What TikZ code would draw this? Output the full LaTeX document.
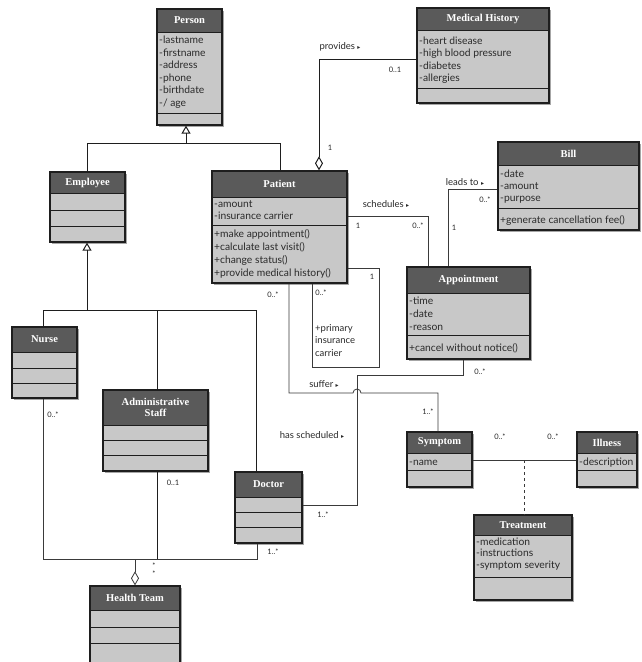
\documentclass[tikz,border=0pt]{standalone}
\usepackage{fontspec}
\setmainfont{Lato}
\newfontfamily\titlefont{Liberation Serif}
\newfontfamily\symfont{DejaVu Sans}
\usetikzlibrary{arrows.meta,fit}

\definecolor{headc}{HTML}{5A5A5A}
\definecolor{bodyc}{HTML}{C8C8C8}
\definecolor{framec}{HTML}{1E1E1E}
\definecolor{linec}{HTML}{3A3A3A}
\definecolor{textc}{HTML}{2A2A2A}

\tikzset{
  frame/.style={draw=framec, line width=1.3pt, inner sep=0pt},
  sepline/.style={draw=framec, line width=0.9pt},
  shadowfill/.style={fill=black!35},
  classtitle/.style={font=\titlefont\bfseries\fontsize{10.5}{11.5}\selectfont, text=white, inner sep=0pt, align=center},
  attr/.style={font=\fontsize{10.3}{12}\selectfont, text=textc, inner sep=0pt, anchor=base west},
  lbl/.style={font=\fontsize{7.5}{9}\selectfont, text=textc, inner sep=0pt},
  assocname/.style={font=\fontsize{9.5}{11}\selectfont, text=textc, inner sep=0pt},
  assoc/.style={draw=linec, line width=0.8pt},
  gen/.style={draw=framec, line width=1pt},
  genhead/.style={-{Triangle[open, length=8pt, width=9pt]}},
  agg/.style={-{Diamond[open, length=14pt, width=8pt]}},
}

% class box: name, x1, y1, x2, y2, header bottom, title, further compartment lines
\newcommand\umlclass[8]{%
  \fill[shadowfill] (#2+2,#3+2) rectangle (#4+2,#5+2);
  \fill[bodyc] (#2,#3) rectangle (#4,#5);
  \fill[headc] (#2,#3) rectangle (#4,#6);
  \foreach \yy in {#6,#8} {\draw[sepline] (#2,\yy) -- (#4,\yy);}
  \node[frame, fit={(#2,#3) (#4,#5)}] (#1) {};
  \node[classtitle] (#1-title) at ({(#2+#4)/2},{(#3+#6)/2}) {#7};
}
% member lines: prefix, x, first baseline, line step, list
\newcommand\memberlines[5]{%
  \foreach \t [count=\i] in {#5} {\node[attr] (#1-\i) at (#2, #3+\i*#4-#4) {\t};}
}
\newcommand\tri{{\symfont\fontsize{6}{6}\selectfont ▸}}

\begin{document}
\begin{tikzpicture}[x=1pt, y=-1pt]
\fill[white] (0,0) rectangle (642,662);
\useasboundingbox (0,0) rectangle (642,662);

% ---- classes ----
\umlclass{person}{157}{9}{222}{125}{32}{Person}{113}
\memberlines{person-a}{159}{43.5}{12.6}{-lastname,-firstname,-address,-phone,-birthdate,-/ age}

\umlclass{mh}{417}{8}{549}{103}{30}{Medical History}{88}
\memberlines{mh-a}{419}{44}{12.5}{-heart disease,-high blood pressure,-diabetes,-allergies}

\umlclass{bill}{498}{142}{639}{230}{165}{Bill}{208}
\memberlines{bill-a}{500}{177}{12}{-date,-amount,-purpose}
\memberlines{bill-m}{500}{223}{12}{+generate cancellation fee()}

\umlclass{patient}{212}{171}{347}{283}{197}{Patient}{225}
\memberlines{patient-a}{214}{207}{12}{-amount,-insurance carrier}
\memberlines{patient-m}{214}{237}{13.3}{+make appointment(),+calculate last visit(),+change status(),+provide medical history()}

\umlclass{appt}{407}{267}{530}{359}{293}{Appointment}{335}
\memberlines{appt-a}{409}{304}{13}{-time,-date,-reason}
\memberlines{appt-m}{409}{351}{12}{+cancel without notice()}

\umlclass{employee}{50}{172}{125}{242}{193}{Employee}{210,226}
\umlclass{nurse}{12}{327}{77}{398}{352}{Nurse}{368,383}
\umlclass{admin}{103}{390}{208}{471}{425}{Administrative\\Staff}{440,455}
\umlclass{doctor}{235}{472}{302}{543}{497}{Doctor}{512,527}
\umlclass{health}{90}{586}{180}{664}{610}{Health Team}{627,643}

\umlclass{symptom}{407}{432}{472}{487}{453}{Symptom}{470}
\memberlines{symptom-a}{409}{465}{12}{-name}
\umlclass{illness}{577}{432}{637}{487}{453}{Illness}{470}
\memberlines{illness-a}{579}{465}{12}{-description}
\umlclass{treat}{474}{515}{572}{600}{535}{Treatment}{577}
\memberlines{treat-a}{476}{545}{11.5}{-medication,-instructions,-symptom severity}

% ---- generalizations ----
\coordinate (g1) at (186,143);
\coordinate (gl) at (87,143);
\coordinate (gr) at (280,143);
\draw[gen, genhead] (g1) -- (g1 |- person.south);
\draw[gen] (employee.north -| gl) -- (gl) -- (gr) -- (gr |- patient.north);

\coordinate (e0) at (87,310);
\coordinate (el) at (43,310);
\coordinate (er) at (256,310);
\coordinate (ea) at (157,310);
\draw[gen, genhead] (e0) -- (e0 |- employee.south);
\draw[gen] (nurse.north -| el) -- (el) -- (er) -- (er |- doctor.north);
\draw[gen] (ea) -- (ea |- admin.north);

% ---- health team aggregation ----
\coordinate (hl) at (43,559);
\coordinate (hr) at (257,559);
\coordinate (ha) at (157,559);
\coordinate (hm) at (135,559);
\draw[assoc] (nurse.south -| hl) -- (hl) -- (hr) -- (hr |- doctor.south);
\draw[gen] (admin.south -| ha) -- (ha);
\draw[assoc, agg] (hm) -- (hm |- health.north);

% ---- associations ----
\coordinate (mh1) at (319,59);
\draw[gen, agg] (mh.west |- mh1) -- (mh1) -- (mh1 |- patient.north);

\coordinate (s1) at (428,216);
\draw[assoc] (patient.east |- s1) -- (s1) -- (s1 |- appt.north);

\coordinate (l1) at (448,189);
\draw[assoc] (bill.west |- l1) -- (l1) -- (l1 |- appt.north);

\coordinate (p1) at (379,268);
\coordinate (p2) at (379,367);
\coordinate (p3) at (312,367);
\draw[assoc] (patient.east |- p1) -- (p1) -- (p2) -- (p3) -- (p3 |- patient.south);

\coordinate (f1) at (289,393);
\coordinate (fh) at (353,393);
\coordinate (f2) at (438,393);
\draw[assoc] (f1 |- patient.south) -- (f1) -- (fh)
  arc[start angle=180, end angle=0, radius=4pt] -- (f2) -- (f2 |- symptom.north);

\coordinate (h1) at (463,375);
\coordinate (h2) at (357,375);
\coordinate (h3) at (357,505);
\draw[assoc] (appt.south -| h1) -- (h1) -- (h2) -- (h3) -- (h3 -| doctor.east);

\coordinate (t1) at (524,460);
\draw[assoc] (symptom.east |- t1) -- (illness.west |- t1);
\draw[assoc, dashed] (t1) -- (t1 |- treat.north);

% ---- association names and multiplicities ----
\node[assocname] (lb-provides) at (340,47) {provides \tri};
\node[lbl] (lb-mh01) at (395,70) {0..1};
\node[lbl] (lb-mh1) at (330,148) {1};
\node[assocname] (lb-sched) at (386,204) {schedules \tri};
\node[lbl] (lb-sched1) at (358,226) {1};
\node[lbl] (lb-sched0) at (418,226) {0..*};
\node[assocname] (lb-leads) at (465,182) {leads to \tri};
\node[lbl] (lb-leads0) at (485,200) {0..*};
\node[lbl] (lb-leads1) at (454,228) {1};
\node[lbl] (lb-self1) at (372,277) {1};
\node[lbl] (lb-self0) at (321,293) {0..*};
\node[assocname, anchor=north west, align=left, font=\fontsize{9.5}{12.5}\selectfont] (lb-role) at (315,324) {+primary\\insurance\\carrier};
\node[lbl] (lb-suf0) at (273,295) {0..*};
\node[assocname] (lb-suffer) at (324,384) {suffer \tri};
\node[lbl] (lb-suf1) at (428,412) {1..*};
\node[lbl] (lb-hs0) at (480,372) {0..*};
\node[assocname] (lb-hs) at (312,435) {has scheduled \tri};
\node[lbl] (lb-hs1) at (323,515) {1..*};
\node[lbl] (lb-nurse) at (53,415) {0..*};
\node[lbl] (lb-admin) at (173,483) {0..1};
\node[lbl] (lb-doc) at (273,552) {1..*};
\node[lbl] (lb-ht1) at (154,566) {*};
\node[lbl] (lb-ht2) at (154,574) {*};
\node[lbl] (lb-si1) at (500,437) {0..*};
\node[lbl] (lb-si2) at (553,437) {0..*};
\end{tikzpicture}
\end{document}
